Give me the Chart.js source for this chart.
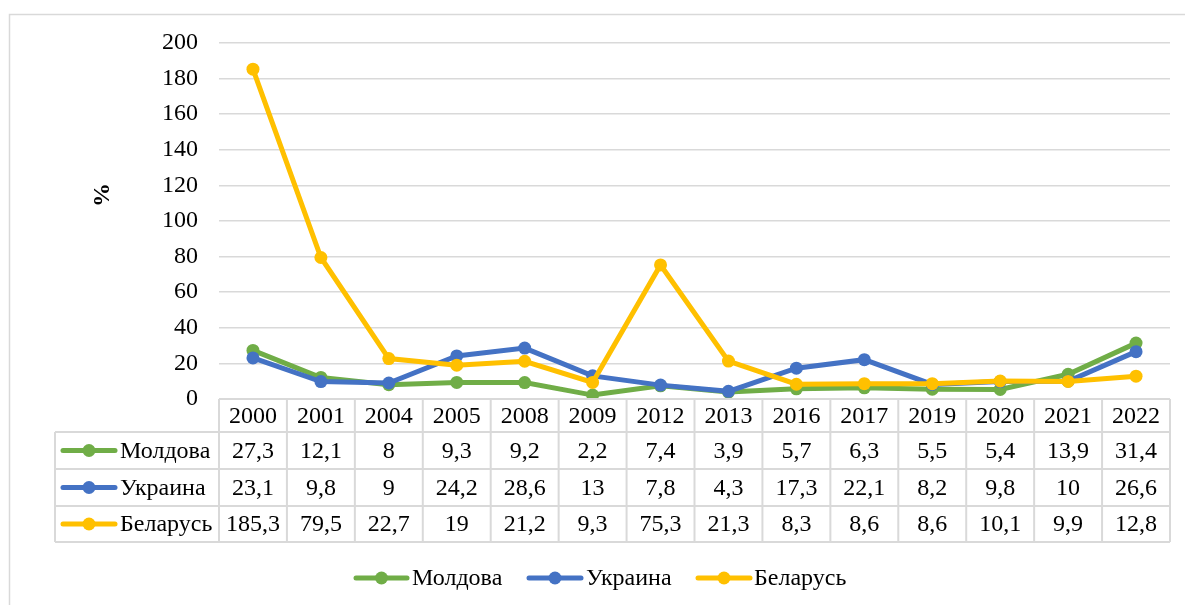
<!DOCTYPE html>
<html>
<head>
<meta charset="utf-8">
<script src="https://cdn.jsdelivr.net/npm/chart.js@4/dist/chart.umd.min.js"></script>
<style>
  html, body { margin: 0; padding: 0; background: #ffffff; }
  #wrap { position: relative; width: 1185px; height: 605px; }
</style>
</head>
<body>
<div id="wrap"><canvas id="c" width="1185" height="605"></canvas></div>
<script>
const years = ['2000','2001','2004','2005','2008','2009','2012','2013','2016','2017','2019','2020','2021','2022'];
const moldova = [27.3,12.1,8,9.3,9.2,2.2,7.4,3.9,5.7,6.3,5.5,5.4,13.9,31.4];
const ukraine = [23.1,9.8,9,24.2,28.6,13,7.8,4.3,17.3,22.1,8.2,9.8,10,26.6];
const belarus = [185.3,79.5,22.7,19,21.2,9.3,75.3,21.3,8.3,8.6,8.6,10.1,9.9,12.8];
const seriesNames = ['Молдова','Украина','Беларусь'];
const seriesColors = ['#70AD47','#4472C4','#FFC000'];
const yTitle = '%';

const FONT = "'Liberation Serif', 'Times New Roman', serif";
const FSIZE = 24;
const GRID = '#d9d9d9';

function fmt(v){ return String(v).replace('.', ','); }

function drawMarker(ctx, x1, x2, y, color){
  ctx.save();
  ctx.strokeStyle = color;
  ctx.lineWidth = 5;
  ctx.lineCap = 'round';
  ctx.beginPath(); ctx.moveTo(x1, y); ctx.lineTo(x2, y); ctx.stroke();
  ctx.fillStyle = color;
  ctx.beginPath(); ctx.arc((x1+x2)/2, y, 6.5, 0, Math.PI*2); ctx.fill();
  ctx.restore();
}

const tablePlugin = {
  id: 'tablePlugin',
  beforeDraw(chart){
    const ctx = chart.ctx;
    ctx.save();
    ctx.fillStyle = '#fff';
    ctx.fillRect(0,0,chart.width,chart.height);
    ctx.strokeStyle = GRID;
    ctx.lineWidth = 1.5;
    ctx.strokeRect(9.5, 14.5, chart.width + 20, chart.height + 20);
    ctx.restore();
  },
  afterDraw(chart){
    const ctx = chart.ctx;
    const xs = chart.scales.x;
    const area = chart.chartArea;
    const n = years.length;
    const cw = (area.right - area.left) / n;
    const top = area.bottom;
    const rowsY = [top, top + 33, top + 70, top + 107, top + 143];
    const legLeft = 55;
    const datasets = [moldova, ukraine, belarus];
    ctx.save();
    ctx.strokeStyle = GRID;
    ctx.lineWidth = 2;
    ctx.beginPath();
    ctx.moveTo(area.left, rowsY[0]); ctx.lineTo(area.right, rowsY[0]);
    for (let r = 1; r < rowsY.length; r++){
      ctx.moveTo(legLeft, rowsY[r]); ctx.lineTo(area.right, rowsY[r]);
    }
    for (let i = 0; i <= n; i++){
      const x = area.left + i * cw;
      ctx.moveTo(x, rowsY[0]); ctx.lineTo(x, rowsY[4]);
    }
    ctx.moveTo(legLeft, rowsY[1]); ctx.lineTo(legLeft, rowsY[4]);
    ctx.stroke();

    ctx.fillStyle = '#000';
    ctx.font = FSIZE + 'px ' + FONT;
    ctx.textAlign = 'center';
    ctx.textBaseline = 'middle';
    for (let i = 0; i < n; i++){
      const cx = xs.getPixelForValue(i);
      ctx.fillText(years[i], cx, (rowsY[0] + rowsY[1]) / 2 + 1);
      for (let s = 0; s < 3; s++){
        ctx.fillText(fmt(datasets[s][i]), cx, (rowsY[s+1] + rowsY[s+2]) / 2 + 1);
      }
    }
    ctx.textAlign = 'left';
    for (let s = 0; s < 3; s++){
      const cy = (rowsY[s+1] + rowsY[s+2]) / 2;
      drawMarker(ctx, 63, 115, cy, seriesColors[s]);
      ctx.fillStyle = '#000';
      ctx.fillText(seriesNames[s], 120, cy + 1);
    }

    const legY = 578;
    const legItems = [[356, 407, 412], [529, 581, 586], [698, 750, 754]];
    for (let s = 0; s < 3; s++){
      drawMarker(ctx, legItems[s][0], legItems[s][1], legY, seriesColors[s]);
      ctx.fillStyle = '#000';
      ctx.fillText(seriesNames[s], legItems[s][2], legY + 1);
    }

    ctx.save();
    ctx.translate(103, 195);
    ctx.rotate(-Math.PI/2);
    ctx.font = 'bold 24px ' + FONT;
    ctx.textAlign = 'center';
    ctx.textBaseline = 'middle';
    ctx.fillText(yTitle, 0, 0);
    ctx.restore();
    ctx.restore();
  }
};

const common = { borderWidth: 5, pointRadius: 6.5, pointBorderWidth: 0, pointHoverRadius: 6.5, tension: 0, fill: false };

new Chart(document.getElementById('c'), {
  type: 'line',
  data: {
    labels: years,
    datasets: [
      Object.assign({ label: seriesNames[0], data: moldova, borderColor: seriesColors[0], backgroundColor: seriesColors[0], pointBackgroundColor: seriesColors[0], order: 2 }, common),
      Object.assign({ label: seriesNames[1], data: ukraine, borderColor: seriesColors[1], backgroundColor: seriesColors[1], pointBackgroundColor: seriesColors[1], order: 1 }, common),
      Object.assign({ label: seriesNames[2], data: belarus, borderColor: seriesColors[2], backgroundColor: seriesColors[2], pointBackgroundColor: seriesColors[2], order: 0 }, common)
    ]
  },
  options: {
    responsive: false,
    animation: false,
    devicePixelRatio: 1,
    layout: { padding: { left: 0, right: 15, top: 43, bottom: 206 } },
    plugins: { legend: { display: false }, tooltip: { enabled: false } },
    scales: {
      x: { display: false, offset: true },
      y: {
        min: 0, max: 200,
        afterFit(s){ s.width = 219; },
        ticks: { stepSize: 20, padding: 21, color: '#000', font: { family: FONT, size: FSIZE } },
        grid: { color: GRID, lineWidth: 1.5, drawTicks: false },
        border: { display: false }
      }
    }
  },
  plugins: [tablePlugin]
});
</script>
</body>
</html>
